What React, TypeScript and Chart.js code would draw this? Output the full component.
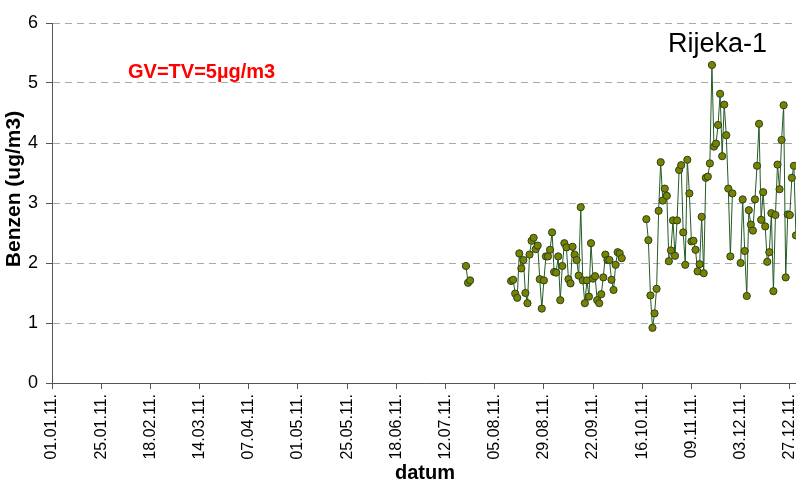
import React, { useEffect, useRef } from 'react';
import { Chart, registerables } from 'chart.js';

Chart.register(...registerables);

const FONT = "Arial, 'Liberation Sans', sans-serif";
const AXIS = '#555555';
const GRID = '#a8a8a8';

// calendar categories for 2011
const monthLengths = [31, 28, 31, 30, 31, 30, 31, 31, 30, 31, 30, 31];
const pad2 = (n: number) => String(n).padStart(2, '0');
const dateLabels: string[] = [];
monthLengths.forEach((len, m) => {
  for (let d = 1; d <= len; d++) dateLabels.push(`${pad2(d)}.${pad2(m + 1)}.11.`);
});

const tickLabels = [
  '01.01.11.', '25.01.11.', '18.02.11.', '14.03.11.', '07.04.11.', '01.05.11.',
  '25.05.11.', '18.06.11.', '12.07.11.', '05.08.11.', '29.08.11.', '22.09.11.',
  '16.10.11.', '09.11.11.', '03.12.11.', '27.12.11.',
];

const chartTitle = 'Rijeka-1';
const limitLabel = 'GV=TV=5µg/m3';
const yAxisTitle = 'Benzen (ug/m3)';
const xAxisTitle = 'datum';

// measurement periods (daily values, ug/m3)
const period1Start = '22.07.11.';
const period1Values = [1.95, 1.67, 1.71];

const period2Start = '13.08.11.';
const period2Values = [
  1.70, 1.72, 1.49, 1.42, 2.16, 1.91, 2.05, 1.50, 1.33, 2.14,
  2.37, 2.42, 2.23, 2.29, 1.73, 1.24, 1.71, 2.11, 2.11, 2.22,
  2.51, 1.85, 1.84, 2.11, 1.38, 1.95, 2.33, 2.26, 1.73, 1.66,
  2.27, 2.14, 2.05, 1.79, 2.93, 1.71, 1.33, 1.71, 1.44, 2.33,
  1.74, 1.78, 1.38, 1.33, 1.48, 1.76, 2.14, 2.05, 2.05, 1.72,
  1.55, 1.97, 2.18, 2.16, 2.08,
];

const period3Start = '18.10.11.';
const period3Values = [
  2.73, 2.38, 1.46, 0.92, 1.16, 1.57, 2.87, 3.68, 3.04, 3.24,
  3.12, 2.03, 2.21, 2.71, 2.12, 2.71, 3.55, 3.63, 2.51, 1.97,
  3.72, 3.16, 2.36, 2.37, 2.22, 1.86, 1.98, 2.77, 1.83, 3.42,
  3.44, 3.66, 5.30, 3.94, 3.99, 4.30, 4.82, 3.78, 4.64, 4.13,
  3.24, 2.11, 3.16,
];

const period4Start = '03.12.11.';
const period4Values = [
  2.00, 3.06, 2.20, 1.45, 2.88, 2.64, 2.54, 3.06, 3.62, 4.32,
  2.72, 3.18, 2.61, 2.02, 2.18, 2.83, 1.53, 2.80, 3.64, 3.23,
  4.05, 4.63, 1.76, 2.81, 2.80, 3.42, 3.62, 2.46,
];

const periods: [string, number[]][] = [
  [period1Start, period1Values],
  [period2Start, period2Values],
  [period3Start, period3Values],
  [period4Start, period4Values],
];

function buildSeries(): (number | null)[] {
  const out: (number | null)[] = dateLabels.map(() => null);
  periods.forEach(([start, vals]) => {
    const i0 = dateLabels.indexOf(start);
    vals.forEach((v, k) => {
      if (i0 + k < out.length) out[i0 + k] = v;
    });
  });
  return out;
}

const textPlugin = {
  id: 'textPlugin',
  afterDraw(chart: any) {
    const ctx = chart.ctx as CanvasRenderingContext2D;
    ctx.save();
    // y axis title
    ctx.fillStyle = '#000';
    ctx.font = `bold 21px ${FONT}`;
    ctx.translate(14, 189);
    ctx.rotate(-Math.PI / 2);
    ctx.textAlign = 'center';
    ctx.textBaseline = 'middle';
    ctx.fillText(yAxisTitle, 0, 0);
    ctx.restore();

    ctx.save();
    ctx.fillStyle = '#000';
    ctx.font = `27px ${FONT}`;
    ctx.textAlign = 'left';
    ctx.textBaseline = 'alphabetic';
    ctx.fillText(chartTitle, 668, 52);

    ctx.fillStyle = '#ff0000';
    ctx.font = `bold 20px ${FONT}`;
    ctx.fillText(limitLabel, 128, 78);
    ctx.restore();
  },
};

export default function App() {
  const ref = useRef<HTMLCanvasElement | null>(null);

  useEffect(() => {
    if (!ref.current) return;
    const chart = new Chart(ref.current, {
      type: 'line',
      data: {
        labels: dateLabels,
        datasets: [
          {
            data: buildSeries(),
            borderColor: '#245a24',
            borderWidth: 1,
            pointRadius: 3.6,
            pointBorderWidth: 1,
            pointBackgroundColor: '#808000',
            pointBorderColor: '#1e461e',
            spanGaps: false,
            tension: 0,
          },
        ],
      },
      options: {
        animation: false,
        responsive: false,
        devicePixelRatio: 1,
        events: [],
        layout: { autoPadding: false, padding: { top: 23, right: 0, bottom: 0, left: 0 } },
        plugins: {
          legend: { display: false },
          tooltip: { enabled: false },
          title: { display: false },
        },
        scales: {
          x: {
            type: 'category',
            offset: false,
            ticks: {
              autoSkip: false,
              minRotation: 90,
              maxRotation: 90,
              padding: 5,
              color: '#000',
              font: { family: FONT, size: 16 },
            },
            afterBuildTicks: (scale: any) => {
              scale.ticks = scale.ticks.filter((t: any) => tickLabels.includes(dateLabels[t.value]));
            },
            afterFit: (scale: any) => {
              scale.height = 103;
              scale.paddingRight = 0;
              scale.paddingLeft = 0;
            },
            grid: {
              drawOnChartArea: false,
              drawTicks: true,
              tickLength: 6,
              tickColor: AXIS,
              tickWidth: 1,
            },
            border: { color: AXIS, width: 1 },
            title: {
              display: true,
              text: xAxisTitle,
              color: '#000',
              font: { family: FONT, size: 20, weight: 'bold' },
              padding: { top: 0, bottom: 1 },
            },
          },
          y: {
            min: 0,
            max: 6,
            ticks: {
              stepSize: 1,
              padding: 8,
              color: '#000',
              font: { family: FONT, size: 18 },
            },
            afterFit: (scale: any) => {
              scale.width = 52;
            },
            grid: {
              color: GRID,
              lineWidth: 1,
              tickLength: 6,
              tickColor: AXIS,
              tickWidth: 1,
              tickBorderDash: [],
            },
            border: { color: AXIS, width: 1, dash: [7, 5] },
          },
        },
      },
      plugins: [textPlugin],
    } as any);
    return () => chart.destroy();
  }, []);

  return (
    <div
      style={{
        position: 'fixed',
        left: 0,
        top: 0,
        width: 796,
        height: 486,
        overflow: 'hidden',
        background: '#fff',
      }}
    >
      <canvas ref={ref} width={798} height={486} style={{ width: 798, height: 486, display: 'block' }} />
    </div>
  );
}
